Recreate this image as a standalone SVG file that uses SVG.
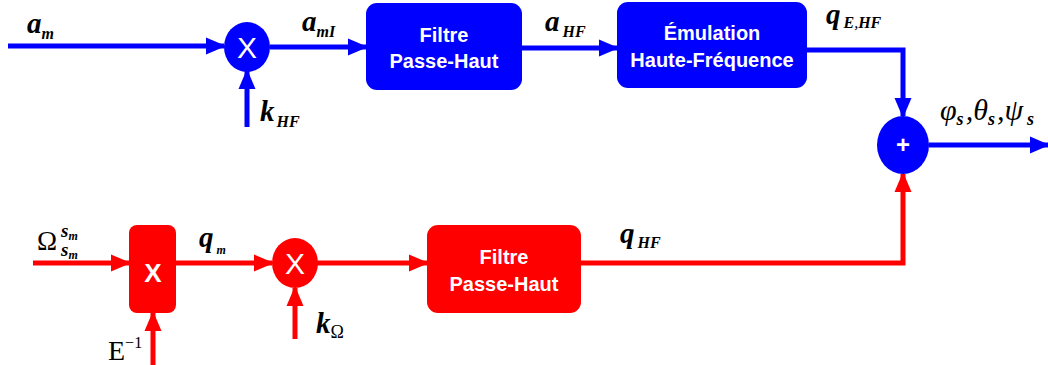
<svg xmlns="http://www.w3.org/2000/svg" width="1048" height="365" viewBox="0 0 1048 365">
<style>
.b{fill:#0000ff}.r{fill:#ff0000}
.lb{stroke:#0000ff;stroke-width:5;fill:none}
.lr{stroke:#ff0000;stroke-width:5;fill:none}
.bt{font-family:"Liberation Sans",Arial,sans-serif;font-weight:bold;font-size:20px;fill:#fff;text-anchor:middle}
.op{font-family:"Liberation Sans",Arial,sans-serif;font-size:30px;fill:#fff;text-anchor:middle}
.m{font-family:"Liberation Serif","Times New Roman",serif;fill:#000}
.bi{font-weight:bold;font-style:italic}
</style>
<defs>
<marker id="ab" markerWidth="4" markerHeight="4" refX="3.6" refY="2" orient="auto" markerUnits="strokeWidth" viewBox="0 0 4 4"><path d="M0,0.3 L4,2 L0,3.7 Z" fill="#0000ff"/></marker>
<marker id="ar" markerWidth="4" markerHeight="4" refX="3.6" refY="2" orient="auto" markerUnits="strokeWidth" viewBox="0 0 4 4"><path d="M0,0.3 L4,2 L0,3.7 Z" fill="#ff0000"/></marker>
</defs>
<g id="connectors">
<path class="lb" d="M8,46 H224" marker-end="url(#ab)"/>
<path class="lb" d="M247,127 V71" marker-end="url(#ab)"/>
<path class="lb" d="M270,47 H366" marker-end="url(#ab)"/>
<path class="lb" d="M522,48 H617" marker-end="url(#ab)"/>
<path class="lb" d="M807,50 H903 V116" marker-end="url(#ab)"/>
<path class="lb" d="M929,145 H1048" marker-end="url(#ab)"/>
<path class="lr" d="M33,263 H129" marker-end="url(#ar)"/>
<path class="lr" d="M153,365 V313" marker-end="url(#ar)"/>
<path class="lr" d="M176,263 H272" marker-end="url(#ar)"/>
<path class="lr" d="M295,339 V288" marker-end="url(#ar)"/>
<path class="lr" d="M317,263 H427" marker-end="url(#ar)"/>
<path class="lr" d="M581,263 H903 V174" marker-end="url(#ar)"/>
</g>
<g id="mult1"><ellipse class="b" cx="247" cy="47" rx="23" ry="25"/><text class="op" x="247" y="58">X</text></g>
<g id="filtre1"><rect class="b" x="366" y="3" width="156" height="87" rx="11"/><text class="bt" x="444" y="42">Filtre</text><text class="bt" x="444" y="68">Passe-Haut</text></g>
<g id="emulation"><rect class="b" x="617" y="2" width="190" height="86" rx="11"/><text class="bt" x="712" y="40">Émulation</text><text class="bt" x="712" y="67">Haute-Fréquence</text></g>
<g id="sum"><ellipse class="b" cx="903" cy="145" rx="26" ry="29"/><text class="op" x="903" y="153" style="font-size:24px;font-weight:bold">+</text></g>
<g id="multE"><rect class="r" x="129" y="225" width="47" height="88" rx="8"/><text class="op" x="153" y="282" style="font-size:26px;font-weight:bold">X</text></g>
<g id="mult2"><ellipse class="r" cx="295" cy="263" rx="23" ry="25"/><text class="op" x="295" y="274">X</text></g>
<g id="filtre2"><rect class="r" x="427" y="225" width="154" height="88" rx="11"/><text class="bt" x="504" y="264">Filtre</text><text class="bt" x="504" y="291">Passe-Haut</text></g>
<g id="labels">
<text class="m bi" x="27" y="33" font-size="29">a<tspan font-size="16" dy="6">m</tspan></text>
<text class="m bi" x="302" y="31" font-size="29">a<tspan font-size="16" dy="6">mI</tspan></text>
<text class="m bi" x="260" y="121" font-size="29">k<tspan font-size="16" dy="6" dx="2">HF</tspan></text>
<text class="m bi" x="545" y="31" font-size="29">a<tspan font-size="16" dy="6" dx="3">HF</tspan></text>
<text class="m bi" x="826" y="24" font-size="29">q<tspan font-size="16" dy="4" dx="3">E</tspan><tspan font-weight="normal" font-style="italic" font-size="16">,</tspan><tspan font-size="16">HF</tspan></text>
<text class="m" x="940" y="120" font-size="30" font-style="italic">φ<tspan class="bi" font-size="18" dy="5">s</tspan><tspan dy="-5" dx="2">,θ</tspan><tspan class="bi" font-size="18" dy="5">s</tspan><tspan dy="-5" dx="2">,ψ</tspan><tspan class="bi" font-size="18" dy="5" dx="4">s</tspan></text>
<text class="m" x="37" y="250" font-size="27">Ω</text>
<text class="m bi" x="61" y="237" font-size="19">s<tspan font-size="12" dy="3">m</tspan></text>
<text class="m bi" x="61" y="256" font-size="19">s<tspan font-size="12" dy="3">m</tspan></text>
<text class="m bi" x="199" y="247" font-size="29">q<tspan font-size="12" dy="7" dx="3">m</tspan></text>
<text class="m" x="108" y="360" font-size="28">E<tspan font-size="16" dy="-12">−1</tspan></text>
<text class="m bi" x="316" y="333" font-size="29">k<tspan font-size="18" dy="5" font-weight="normal" font-style="normal">Ω</tspan></text>
<text class="m bi" x="620" y="243" font-size="29">q<tspan font-size="16" dy="5" dx="3">HF</tspan></text>
</g>
</svg>
